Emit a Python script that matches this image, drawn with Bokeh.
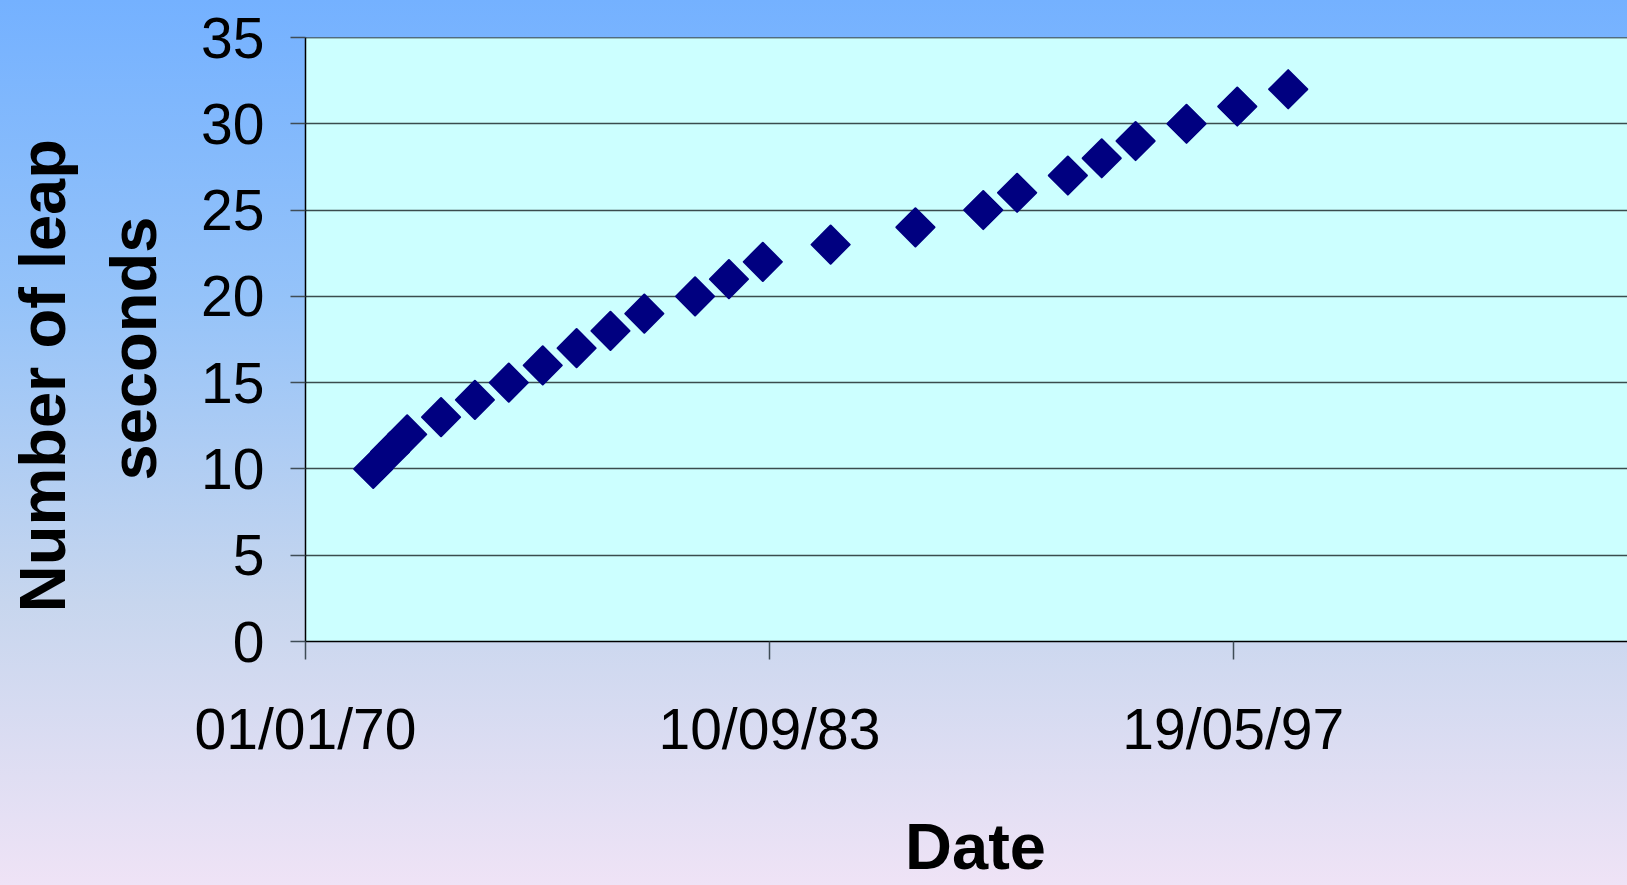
import pandas as pd
from bokeh.plotting import figure
from bokeh.models import Range1d, FixedTicker, DatetimeTickFormatter, Span, ColumnDataSource
from bokeh.embed import file_html
from bokeh.resources import INLINE

# Dates at which TAI-UTC changed, and the count of leap seconds
dates = ["1972-01-01", "1972-07-01", "1973-01-01", "1974-01-01", "1975-01-01",
         "1976-01-01", "1977-01-01", "1978-01-01", "1979-01-01", "1980-01-01",
         "1981-07-01", "1982-07-01", "1983-07-01", "1985-07-01", "1988-01-01",
         "1990-01-01", "1991-01-01", "1992-07-01", "1993-07-01", "1994-07-01",
         "1996-01-01", "1997-07-01", "1999-01-01"]
leap_seconds = [10, 11, 12, 13, 14, 15, 16, 17, 18, 19, 20, 21, 22, 23, 24,
                25, 26, 27, 28, 29, 30, 31, 32]
x_tick_dates = ["1970-01-01", "1983-09-10", "1997-05-19"]
y_ticks = [0, 5, 10, 15, 20, 25, 30, 35]
x_start, x_end = "1970-01-01", "2009-01-05"
y_label_lines = ["Number of leap", "seconds"]
x_label = "Date"

FONT = "Liberation Sans"
NBSP = "\u00a0"

src = ColumnDataSource(dict(x=pd.to_datetime(dates), y=leap_seconds))

p = figure(width=1627, height=885, x_axis_type="datetime",
           x_range=Range1d(start=pd.Timestamp(x_start), end=pd.Timestamp(x_end)),
           y_range=Range1d(0, 35),
           output_backend="svg", toolbar_location=None,
           min_border_left=305, min_border_right=0, min_border_top=37, min_border_bottom=244,
           background_fill_color="#CCFFFF", border_fill_color=None, outline_line_color=None,
           styles={"background": "linear-gradient(to bottom, #74B1FF 0%, #95C3F9 34%, #C7D6EE 68%, #EFE3F6 100%)"})

tick_ms = (pd.to_datetime(x_tick_dates).astype("int64") // 10**6).tolist()
p.xaxis.ticker = FixedTicker(ticks=tick_ms)
fmt = "%d/%m/%y"
p.xaxis.formatter = DatetimeTickFormatter(microseconds=fmt, milliseconds=fmt, seconds=fmt,
                                          minsec=fmt, minutes=fmt, hourmin=fmt, hours=fmt,
                                          days=fmt, months=fmt, years=fmt)
p.yaxis.ticker = FixedTicker(ticks=y_ticks)

for ax in (p.xaxis, p.yaxis):
    ax.axis_line_color = "black"
    ax.axis_line_width = 1.5
    ax.major_tick_line_color = "#3f4c56"
    ax.major_tick_line_width = 1.5
    ax.minor_tick_line_color = None
    ax.major_tick_in = 0
    ax.major_label_text_font = FONT
    ax.major_label_text_font_size = "57px"
    ax.major_label_text_color = "black"
    ax.axis_label_text_font = FONT
    ax.axis_label_text_font_style = "bold"
    ax.axis_label_text_font_size = "65px"
    ax.axis_label_text_color = "black"

p.yaxis.major_tick_out = 15
p.yaxis.major_label_standoff = 26
p.xaxis.major_tick_out = 18
p.xaxis.major_label_standoff = 37

# no-break spaces shift each centred title line to where the reference has it
p.yaxis.axis_label = (y_label_lines[0] + NBSP * 4) + "\n" + (y_label_lines[1] + NBSP)
p.yaxis.axis_label_standoff = 28
p.yaxis.axis_label_text_align = "center"
p.yaxis.axis_label_text_line_height = 1.25
p.xaxis.axis_label = NBSP + x_label
p.xaxis.axis_label_standoff = 46

p.xgrid.grid_line_color = None
p.ygrid.grid_line_color = "#3a4c4e"
p.ygrid.grid_line_width = 1.5

p.add_layout(Span(location=35, dimension="width", line_color="black", line_width=1.5))

p.scatter("x", "y", source=src, marker="square", size=27, angle=0.785398,
          fill_color="#000080", line_color="#000080", line_width=2, line_join="round")

open("out.html", "w").write(file_html(p, INLINE))
